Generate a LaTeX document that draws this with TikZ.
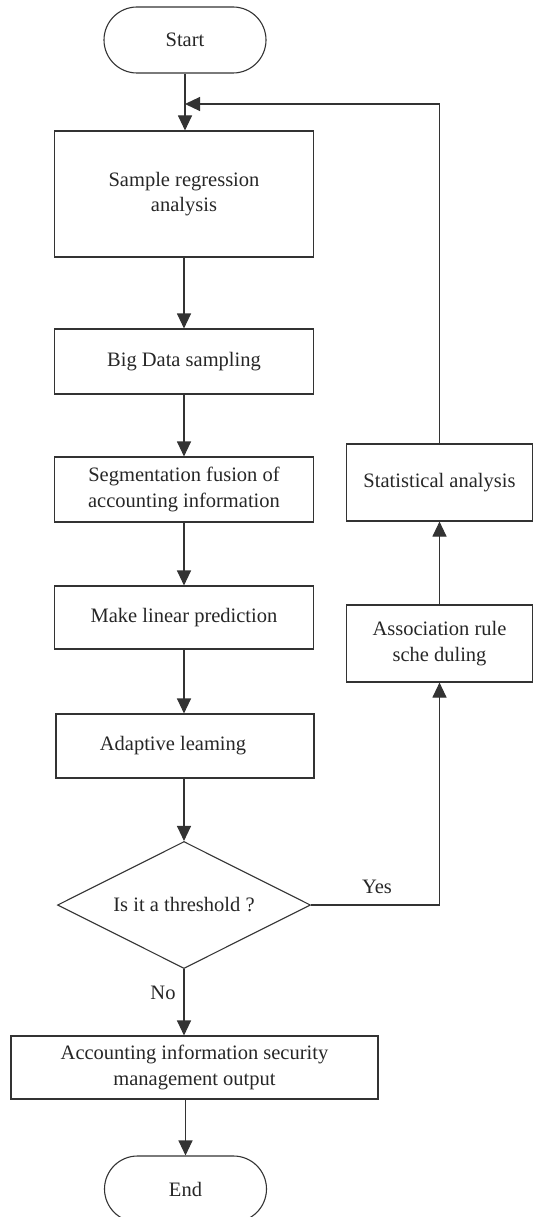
\documentclass[tikz,border=0pt]{standalone}
\usepackage{fontspec}
\setmainfont{Liberation Serif}
\usetikzlibrary{arrows.meta,shapes.geometric}
\begin{document}
\begin{tikzpicture}[x=1pt,y=-1pt,
  every node/.style={font=\fontsize{20.5}{25.5}\selectfont, text=black!85},
  box/.style={draw=black!80, line width=1.1pt, align=center, inner sep=0pt},
  term/.style={box, rounded corners=33pt, minimum width=162pt, minimum height=66pt},
  dec/.style={box, diamond, minimum width=253pt, minimum height=127pt},
  arr/.style={draw=black!80, line width=1.1pt, -{Triangle[length=15pt,width=14pt]}},
  conn/.style={draw=black!80, line width=1.1pt}]
\useasboundingbox (0,0) rectangle (533,1217);
\node[term] (start) at (185,40) {Start};
\node[box, minimum width=259pt, minimum height=126pt] (b1) at (184,194) {Sample regression\\analysis};
\node[box, minimum width=259pt, minimum height=65pt] (b2) at (184,361.5) {Big Data sampling};
\node[box, minimum width=259pt, minimum height=65pt] (b3) at (184,489.5) {Segmentation fusion of\\accounting information};
\node[box, minimum width=259pt, minimum height=63pt] (b4) at (184,617.5) {Make linear prediction};
\node[box, minimum width=258pt, minimum height=64pt] (b5) at (185,746) {Adaptive leaming\hspace*{24pt}};
\node[dec] (d) at (184,905) {};
\node (dtext) at (d.center) {Is it a threshold ?};
\node[box, minimum width=367pt, minimum height=63pt] (out) at (194.5,1067.5) {Accounting information security\\management output};
\node[term] (end) at (185.5,1189) {End};
\node[box, minimum width=186pt, minimum height=77pt] (stat) at (439.5,482.5) {Statistical analysis};
\node[box, minimum width=186pt, minimum height=77pt] (assoc) at (439.5,643.5) {Association rule\\sche duling};
\node (yes) at (377,887) {Yes};
\node (no) at (163,993) {No};
\coordinate (top) at (439.5,104);
\coordinate (join) at (185,104);
\coordinate (corner) at (439.5,905);
\draw[arr] (start.south) -- (start.south |- b1.north);
\draw[arr] (b1.south) -- (b1.south |- b2.north);
\draw[arr] (b2.south) -- (b2.south |- b3.north);
\draw[arr] (b3.south) -- (b3.south |- b4.north);
\draw[arr] (b4.south) -- (b4.south |- b5.north);
\draw[arr] (b5.south -| d.north) -- (d.north);
\draw[arr] (d.south) -- (d.south |- out.north);
\draw[arr] (end.north |- out.south) -- (end.north);
\draw[arr] (d.east) -- (corner) -- (assoc.south);
\draw[arr] (assoc) -- (stat);
\draw[arr] (stat.north) -- (top) -- (join);
\end{tikzpicture}
\end{document}
